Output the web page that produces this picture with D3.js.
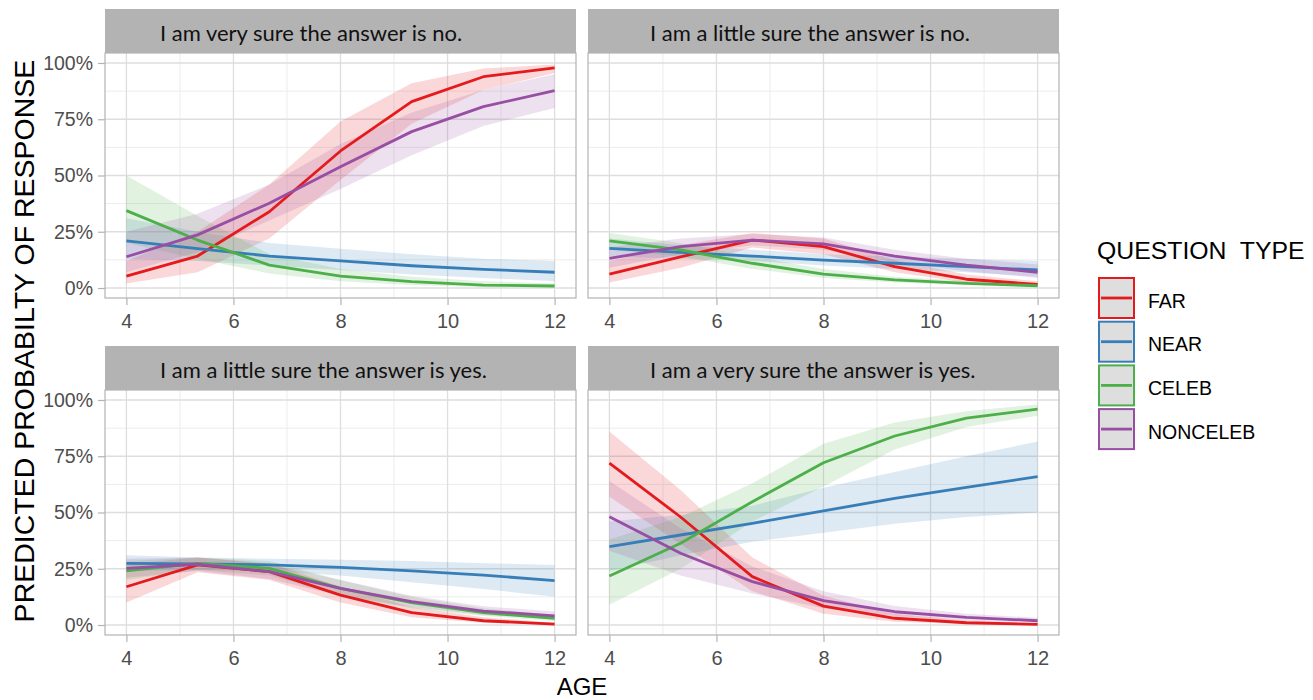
<!DOCTYPE html>
<html><head><meta charset="utf-8">
<script src="https://cdn.jsdelivr.net/npm/d3@7"></script>
<style>body{margin:0;background:#fff}svg{display:block}</style>
</head><body><svg id="c" width="1313" height="700"></svg>
<script>
// ---------- DATA ----------
const ages = [4, 5.33, 6.67, 8, 9.33, 10.67, 12];
const seriesNames = ["FAR", "NEAR", "CELEB", "NONCELEB"];
const panelTitles = [
  "I am very sure the answer is no.",
  "I am a little sure the answer is no.",
  "I am a little sure the answer is yes.",
  "I am a very sure the answer is yes."
];
const xTicks = [4, 6, 8, 10, 12];
const xMinor = [5, 7, 9, 11];
const yTicks = [0, 0.25, 0.5, 0.75, 1];
const yMinor = [0.125, 0.375, 0.625, 0.875];
const yTickLabels = ["0%", "25%", "50%", "75%", "100%"];

// Panel 1: very sure no  (rows: FAR, NEAR, CELEB, NONCELEB)
const p1Fit = [
  [0.053, 0.142, 0.339, 0.609, 0.828, 0.939, 0.978],
  [0.209, 0.175, 0.142, 0.121, 0.099, 0.083, 0.070],
  [0.344, 0.213, 0.102, 0.053, 0.028, 0.013, 0.009],
  [0.139, 0.236, 0.377, 0.539, 0.695, 0.806, 0.877]];
const p1Lo = [
  [0.020, 0.070, 0.220, 0.480, 0.730, 0.880, 0.955],
  [0.130, 0.120, 0.100, 0.080, 0.060, 0.045, 0.030],
  [0.200, 0.130, 0.065, 0.030, 0.013, 0.005, 0.002],
  [0.070, 0.160, 0.300, 0.440, 0.590, 0.720, 0.800]];
const p1Hi = [
  [0.120, 0.250, 0.460, 0.740, 0.910, 0.975, 0.993],
  [0.310, 0.250, 0.200, 0.175, 0.150, 0.130, 0.120],
  [0.500, 0.320, 0.150, 0.085, 0.050, 0.030, 0.020],
  [0.250, 0.330, 0.460, 0.640, 0.780, 0.880, 0.950]];

// Panel 2: little sure no
const p2Fit = [
  [0.062, 0.138, 0.213, 0.184, 0.095, 0.039, 0.016],
  [0.176, 0.158, 0.142, 0.124, 0.110, 0.095, 0.080],
  [0.209, 0.169, 0.110, 0.062, 0.036, 0.021, 0.010],
  [0.132, 0.184, 0.213, 0.196, 0.142, 0.102, 0.070]];
const p2Lo = [
  [0.025, 0.090, 0.180, 0.150, 0.070, 0.025, 0.008],
  [0.140, 0.130, 0.120, 0.100, 0.085, 0.070, 0.050],
  [0.170, 0.140, 0.085, 0.045, 0.025, 0.013, 0.005],
  [0.090, 0.150, 0.190, 0.170, 0.115, 0.075, 0.045]];
const p2Hi = [
  [0.120, 0.190, 0.245, 0.220, 0.125, 0.060, 0.030],
  [0.220, 0.190, 0.170, 0.150, 0.140, 0.130, 0.120],
  [0.245, 0.200, 0.140, 0.085, 0.050, 0.032, 0.020],
  [0.180, 0.220, 0.240, 0.225, 0.170, 0.130, 0.105]];

// Panel 3: little sure yes
const p3Fit = [
  [0.170, 0.267, 0.237, 0.133, 0.055, 0.019, 0.004],
  [0.274, 0.272, 0.267, 0.256, 0.241, 0.222, 0.197],
  [0.241, 0.274, 0.252, 0.163, 0.099, 0.055, 0.030],
  [0.252, 0.270, 0.237, 0.163, 0.104, 0.062, 0.041]];
const p3Lo = [
  [0.100, 0.235, 0.200, 0.100, 0.035, 0.010, 0.002],
  [0.240, 0.245, 0.240, 0.220, 0.190, 0.160, 0.126],
  [0.200, 0.245, 0.220, 0.130, 0.075, 0.040, 0.018],
  [0.210, 0.240, 0.205, 0.130, 0.080, 0.045, 0.027]];
const p3Hi = [
  [0.270, 0.300, 0.275, 0.170, 0.080, 0.035, 0.010],
  [0.310, 0.300, 0.295, 0.290, 0.285, 0.275, 0.267],
  [0.285, 0.300, 0.285, 0.200, 0.125, 0.075, 0.045],
  [0.295, 0.300, 0.270, 0.200, 0.130, 0.083, 0.060]];

// Panel 4: very sure yes
const p4Fit = [
  [0.719, 0.480, 0.215, 0.084, 0.030, 0.010, 0.003],
  [0.348, 0.400, 0.452, 0.507, 0.563, 0.612, 0.659],
  [0.218, 0.363, 0.548, 0.721, 0.840, 0.919, 0.959],
  [0.481, 0.319, 0.193, 0.108, 0.059, 0.034, 0.019]];
const p4Lo = [
  [0.570, 0.360, 0.150, 0.050, 0.015, 0.004, 0.001],
  [0.240, 0.310, 0.370, 0.410, 0.450, 0.480, 0.500],
  [0.090, 0.250, 0.460, 0.615, 0.780, 0.880, 0.930],
  [0.330, 0.220, 0.140, 0.075, 0.040, 0.020, 0.010]];
const p4Hi = [
  [0.860, 0.600, 0.300, 0.130, 0.050, 0.020, 0.008],
  [0.460, 0.490, 0.530, 0.610, 0.680, 0.750, 0.815],
  [0.380, 0.480, 0.630, 0.805, 0.900, 0.950, 0.980],
  [0.640, 0.430, 0.260, 0.150, 0.085, 0.050, 0.032]];

const seriesColors = ["#E41A1C", "#377EB8", "#4DAF4A", "#984EA3"];

// ---------- LAYOUT ----------
const panels = [
  {title: panelTitles[0], fit: p1Fit, lo: p1Lo, hi: p1Hi},
  {title: panelTitles[1], fit: p2Fit, lo: p2Lo, hi: p2Hi},
  {title: panelTitles[2], fit: p3Fit, lo: p3Lo, hi: p3Hi},
  {title: panelTitles[3], fit: p4Fit, lo: p4Lo, hi: p4Hi}
];
const colX = [105, 588];
const rowY = [9, 346];
const stripH = 44, pw = 471, ph = 245;
const stripTextOffset = [55, 62];
const numFont = "'Liberation Sans', Arial, sans-serif";

const svg = d3.select("#c");
const x = d3.scaleLinear().domain([3.6, 12.4]).range([0, pw]);
const y = d3.scaleLinear().domain([-0.0444, 1.0444]).range([ph, 0]);

const line = d3.line().x((d, i) => x(ages[i])).y(d => y(d));

panels.forEach((p, pi) => {
  const col = pi % 2, row = Math.floor(pi / 2);
  const gx = colX[col], gy = rowY[row];
  // strip
  svg.append("rect").attr("x", gx).attr("y", gy).attr("width", pw).attr("height", stripH)
    .attr("fill", "#b3b3b3");
  svg.append("text").attr("x", gx + stripTextOffset[col]).attr("y", gy + 31.5)
    .attr("font-family", "Lato, 'Open Sans', sans-serif").attr("font-size", 22)
    .attr("fill", "#111").text(p.title);

  const g = svg.append("g").attr("transform", `translate(${gx},${gy + stripH})`);
  g.append("rect").attr("width", pw).attr("height", ph).attr("fill", "#fff");
  // minor grid
  g.selectAll(".ymin").data(yMinor).enter().append("line")
    .attr("x1", 0).attr("x2", pw).attr("y1", d => y(d)).attr("y2", d => y(d))
    .attr("stroke", "#ececec").attr("stroke-width", 1);
  g.selectAll(".xmin").data(xMinor).enter().append("line")
    .attr("y1", 0).attr("y2", ph).attr("x1", d => x(d)).attr("x2", d => x(d))
    .attr("stroke", "#ececec").attr("stroke-width", 1);
  // major grid
  g.selectAll(".ymaj").data(yTicks).enter().append("line")
    .attr("x1", 0).attr("x2", pw).attr("y1", d => y(d)).attr("y2", d => y(d))
    .attr("stroke", "#dedede").attr("stroke-width", 1.3);
  g.selectAll(".xmaj").data(xTicks).enter().append("line")
    .attr("y1", 0).attr("y2", ph).attr("x1", d => x(d)).attr("x2", d => x(d))
    .attr("stroke", "#dedede").attr("stroke-width", 1.3);

  // ribbons
  p.fit.forEach((s, si) => {
    const area = d3.area().x((d, i) => x(ages[i]))
      .y0((d, i) => y(p.lo[si][i])).y1((d, i) => y(p.hi[si][i]));
    g.append("path").datum(s).attr("d", area)
      .attr("fill", seriesColors[si]).attr("fill-opacity", 0.17);
  });
  // lines
  p.fit.forEach((s, si) => {
    g.append("path").datum(s).attr("d", line)
      .attr("fill", "none").attr("stroke", seriesColors[si])
      .attr("stroke-width", 2.8).attr("stroke-linejoin", "round");
  });
  // border
  g.append("rect").attr("width", pw).attr("height", ph).attr("fill", "none")
    .attr("stroke", "#b3b3b3").attr("stroke-width", 1.2);

  // x axis
  const xa = g.append("g").attr("transform", `translate(0,${ph})`)
    .call(d3.axisBottom(x).tickValues(xTicks).tickSize(7).tickPadding(8.5).tickFormat(d3.format("d")));
  xa.select(".domain").remove();
  xa.selectAll("line").attr("stroke", "#b3b3b3").attr("stroke-width", 1.2);
  xa.selectAll("text").attr("font-family", numFont).attr("font-size", 20).attr("fill", "#4d4d4d");

  if (col === 0) {
    const ya = g.append("g")
      .call(d3.axisLeft(y).tickValues(yTicks).tickSize(7).tickPadding(5)
        .tickFormat((d, i) => yTickLabels[i]));
    ya.select(".domain").remove();
    ya.selectAll("line").attr("stroke", "#b3b3b3").attr("stroke-width", 1.2);
    ya.selectAll("text").attr("font-family", numFont).attr("font-size", 19.5).attr("fill", "#4d4d4d");
  }
});

// axis titles
svg.append("text").attr("transform", "translate(34,341) rotate(-90)")
  .attr("text-anchor", "middle").attr("font-family", numFont).attr("font-size", 28.5)
  .attr("fill", "#000").text("PREDICTED PROBABILTY OF RESPONSE");
svg.append("text").attr("x", 582).attr("y", 695).attr("text-anchor", "middle")
  .attr("font-family", numFont).attr("font-size", 24).attr("fill", "#000").text("AGE");

// legend
const lg = svg.append("g");
lg.append("text").attr("x", 1097).attr("y", 258.5).attr("font-family", numFont)
  .attr("font-size", 24.8).attr("fill", "#000").attr("xml:space", "preserve")
  .style("white-space", "pre").text("QUESTION  TYPE");
seriesNames.forEach((n, i) => {
  const ty = 278 + i * 43.7;
  lg.append("rect").attr("x", 1099).attr("y", ty).attr("width", 35).attr("height", 40)
    .attr("fill", "#dedede").attr("stroke", seriesColors[i]).attr("stroke-width", 2);
  lg.append("line").attr("x1", 1101).attr("x2", 1132).attr("y1", ty + 20).attr("y2", ty + 20)
    .attr("stroke", seriesColors[i]).attr("stroke-width", 2.8);
  lg.append("text").attr("x", 1148).attr("y", ty + 29.5).attr("font-family", numFont)
    .attr("font-size", 19.5).attr("fill", "#000").text(n);
});
</script></body></html>
